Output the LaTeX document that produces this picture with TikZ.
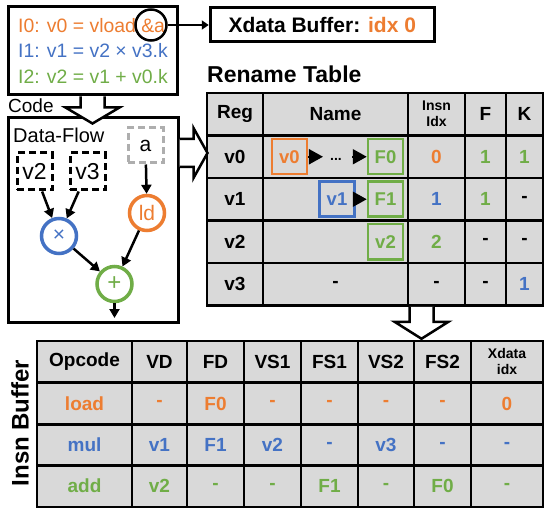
\documentclass[tikz,border=0pt]{standalone}
\usepackage{fontspec}
\setmainfont{Liberation Sans}
\usetikzlibrary{arrows.meta, positioning}
\definecolor{codeorange}{HTML}{ED7D31}
\definecolor{codeblue}{HTML}{4472C4}
\definecolor{codegreen}{HTML}{70AD47}
\definecolor{cellgray}{HTML}{D9D9D9}
\definecolor{dashgray}{HTML}{AEAEAE}

\begin{document}
\begin{tikzpicture}[x=1pt, y=-1pt]
    \tikzstyle{box} = [draw, line width=3pt, inner sep=0pt]
    \tikzstyle{codeline} = [anchor=base west, inner sep=0pt, font=\fontsize{19.4}{21}\selectfont]
    \tikzstyle{srcbox} = [draw, line width=3pt, dash pattern=on 7pt off 4pt, minimum width=35pt, minimum height=37pt, inner sep=0pt, font=\fontsize{23}{25}\selectfont]
    \tikzstyle{op} = [circle, draw, line width=3.5pt, minimum size=35pt, inner sep=0pt, fill=white]
    \tikzstyle{flow} = [draw, line width=2.5pt, -{Triangle[length=9pt, width=10pt]}]
    \tikzstyle{blockarrow} = [draw, line width=2.5pt, fill=white, line join=miter]
    \tikzstyle{cell} = [draw, line width=2.5pt, fill=cellgray, minimum height=42.5pt, inner sep=0pt]
    \tikzstyle{celltext} = [inner sep=0pt, align=center, font=\fontsize{19}{21}\selectfont\bfseries]
    \tikzstyle{smallhead} = [inner sep=0pt, align=center, font=\fontsize{14}{16}\selectfont\bfseries]
    \tikzstyle{namebox} = [draw, line width=2.5pt, minimum width=35pt, minimum height=35pt, inner sep=0pt, font=\fontsize{18.5}{20}\selectfont\bfseries]
    \tikzstyle{tri} = [draw, line width=2pt, -{Triangle[length=14pt 0 0, width=15pt 0 0]}]

    \path[use as bounding box, fill=white] (0,0) rectangle (544,508);

    % code
    \node[box, minimum width=169pt, minimum height=88pt] (codebox) at (92.5,51) {};
    \node[codeline, text=codeorange] (i0) at (18,33) {I0: v0 = vload \&a};
    \node[codeline, text=codeblue] (i1) at (18,58) {I1: v1 = v2 × v3.k};
    \node[codeline, text=codegreen] (i2) at (18,84) {I2: v2 = v1 + v0.k};
    \node[circle, draw, line width=2.5pt, minimum size=31pt, inner sep=0pt] (ampcircle) at (151,25) {};
    \node[anchor=base west, inner sep=0pt, font=\fontsize{19}{21}\selectfont] (codelabel) at (8,113) {Code};

    % xdata buffer
    \node[box, minimum width=224pt, minimum height=34pt, right=41pt of ampcircle, font=\fontsize{21}{23}\selectfont\bfseries] (xdata) {Xdata Buffer: \textcolor{codeorange}{idx 0}};
    \draw[line width=2pt, -{Triangle[length=7pt, width=9pt]}] (ampcircle.east) -- (ampcircle.east -| xdata.west);

    % data-flow
    \node[box, minimum width=170pt, minimum height=204pt] (dfbox) at (93,220) {};
    \node[anchor=base west, inner sep=0pt, font=\fontsize{20}{22}\selectfont] (dflabel) at (13,143) {Data-Flow};
    \node[srcbox] (v2) at (34.5,171.5) {v2};
    \node[srcbox] (v3) at (87.5,171.5) {v3};
    \node[srcbox, draw=dashgray, minimum height=35pt, font=\fontsize{21}{23}\selectfont] (a) at (145.5,145.5) {a};
    \node[op, draw=codeblue, text=codeblue, font=\fontsize{21}{21}\selectfont] (times) at (59,236) {×};
    \node[op, draw=codeorange, text=codeorange, font=\fontsize{21}{23}\selectfont] (ld) at (147,213) {ld};
    \node[op, draw=codegreen, text=codegreen, font=\fontsize{24}{24}\selectfont] (plus) at (114.5,284) {+};
    \coordinate (dfout) at (114.5,318);
    \path[flow] (v2) -- (times);
    \path[flow] (v3) -- (times);
    \path[flow] (a) -- (ld);
    \path[flow] (times) -- (plus);
    \path[flow] (ld) -- (plus);
    \path[flow] (plus) -- (dfout);

    % rename table
    \node[anchor=base west, inner sep=0pt, font=\fontsize{23}{25}\selectfont\bfseries] (rtlabel) at (207,83) {Rename Table};
    \foreach \c/\cx/\w in {1/235/56, 2/335.5/145, 3/436.5/57, 4/485.5/41, 5/524.5/37}
        \foreach \r/\cy in {0/114.25, 1/156.75, 2/199.25, 3/241.75, 4/284.25}
            \node[cell, minimum width=\w pt] (rt-\r-\c) at (\cx,\cy) {};
    \foreach \r/\c/\txt/\col in {0/1/Reg/black, 0/2/Name/black, 0/4/F/black, 0/5/K/black,
            1/1/v0/black, 1/3/0/codeorange, 1/4/1/codegreen, 1/5/1/codegreen,
            2/1/v1/black, 2/3/1/codeblue, 2/4/1/codegreen, 2/5/-/black,
            3/1/v2/black, 3/3/2/codegreen, 3/4/-/black, 3/5/-/black,
            4/1/v3/black, 4/2/-/black, 4/3/-/black, 4/4/-/black, 4/5/1/codeblue}
        \node[celltext, text=\col] (rtx-\r-\c) at (rt-\r-\c) {\txt};
    \node[smallhead] (rtx-0-3) at (rt-0-3) {Insn\\Idx};

    % renamed registers
    \node[namebox, draw=codeorange, text=codeorange] (nv0) at (289.5,156.75) {v0};
    \node[inner sep=0pt, font=\fontsize{14}{16}\selectfont\bfseries] (ndots) at (336,159) {...};
    \node[namebox, draw=codegreen, text=codegreen] (nf0) at (385.5,156.75) {F0};
    \node[namebox, draw=codeblue, text=codeblue] (nv1) at (337,199.25) {v1};
    \node[namebox, draw=codegreen, text=codegreen] (nf1) at (385.5,199.25) {F1};
    \node[namebox, draw=codegreen, text=codegreen] (nv2) at (385.5,241.75) {v2};
    \path[tri, shorten >=7pt] (nv0.east) -- (nv0.east -| ndots.west);
    \path[tri, shorten <=10pt] (nf0.west -| ndots.east) -- (nf0.west);
    \path[tri] (nv1) -- (nf1);

    % insn buffer
    \foreach \c/\cx/\w in {1/84.5/95, 2/159.5/55, 3/215.5/57, 4/272.5/57, 5/329.5/57, 6/386/56, 7/442.5/57, 8/507/72}
        \foreach \r/\cy in {0/361.5, 1/403.5, 2/445, 3/486}
            \node[cell, minimum width=\w pt, minimum height=41.5pt] (ib-\r-\c) at (\cx,\cy) {};
    \foreach \txt [count=\c] in {Opcode, VD, FD, VS1, FS1, VS2, FS2}
        \node[celltext] (ibx-0-\c) at (ib-0-\c) {\txt};
    \node[smallhead] (ibx-0-8) at (ib-0-8) {Xdata\\idx};
    \foreach \r/\col/\lst in {1/codeorange/{load,-,F0,-,-,-,-,0}, 2/codeblue/{mul,v1,F1,v2,-,v3,-,-}, 3/codegreen/{add,v2,-,-,F1,-,F0,-}}
        \foreach \txt [count=\c] in \lst
            \node[celltext, text=\col] (ibx-\r-\c) at (ib-\r-\c) {\txt};
    \node[rotate=90, inner sep=0pt, font=\fontsize{24}{26}\selectfont\bfseries] (ibtitle) at (20,423) {Insn Buffer};

    % block arrows
    \path[blockarrow] ([xshift=-12pt]codebox.south) -- ++(0,11) -- ++(-15,0) -- ++(27,16) -- ++(27,-16) -- ++(-15,0) -- ++(0,-11);
    \path[blockarrow] ([yshift=81pt]dfbox.east) -- ++(14,0) -- ++(0,-11) -- ++(14,25) -- ++(-14,25) -- ++(0,-11) -- ++(-14,0);
    \path[blockarrow] ([xshift=-27pt]rt-4-3.south) -- ++(0,15) -- ++(-15,0) -- ++(27,17) -- ++(27,-17) -- ++(-15,0) -- ++(0,-15);
\end{tikzpicture}
\end{document}
